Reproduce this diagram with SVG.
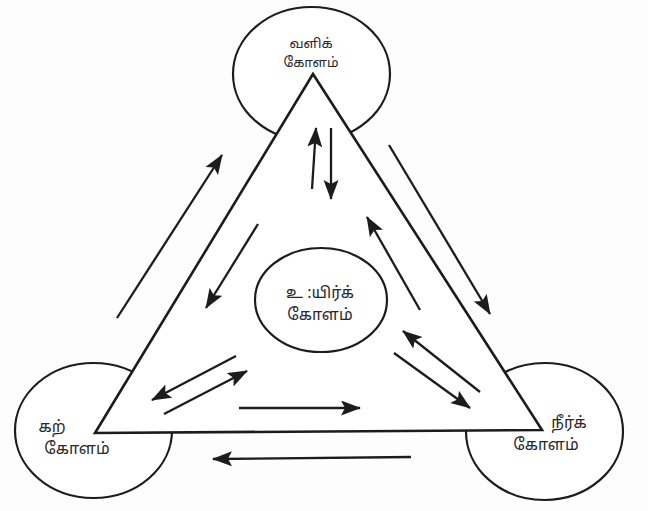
<svg xmlns="http://www.w3.org/2000/svg" width="648" height="511" viewBox="0 0 648 511">
<style>
.sh{fill:#fff;stroke:#1c1c1c;stroke-width:2.2}
.tri{fill:#fff;stroke:#1c1c1c;stroke-width:2.6;stroke-linejoin:miter}
.ar{fill:none;stroke:#1c1c1c;stroke-width:2.3;marker-end:url(#ah)}
.t{font-family:"Noto Sans Tamil","Latha","Lohit Tamil","Noto Sans",sans-serif;fill:#2a2a2a;text-anchor:middle}
</style>
<defs>
<marker id="ah" markerUnits="userSpaceOnUse" markerWidth="22" markerHeight="16" refX="19" refY="7.5" orient="auto">
<path d="M0,0 L20,7.5 L0,15 L4,7.5 z" fill="#1c1c1c"/>
</marker>
</defs>
<rect width="648" height="511" fill="#fdfdfd"/>
<g id="node-vali">
<ellipse class="sh" cx="311.5" cy="74" rx="78.5" ry="67"/>
</g>
<g id="node-kal">
<ellipse class="sh" cx="93.5" cy="430.5" rx="78.5" ry="67.5"/>
</g>
<g id="node-neer">
<ellipse class="sh" cx="544.5" cy="431.5" rx="78.5" ry="68.5"/>
</g>
<g id="triangle">
<polygon class="tri" points="313,74 95,433 542,430"/>
</g>
<g id="node-uyir">
<ellipse class="sh" cx="321" cy="300" rx="66" ry="52"/>
<text class="t" x="320" y="298" font-size="16">உ :யிர்க்</text>
<text class="t" x="320" y="320" font-size="16">கோளம்</text>
</g>
<g id="labels">
<text class="t" x="311" y="48" font-size="13.5">வளிக்</text>
<text class="t" x="311" y="67" font-size="13.5">கோளம்</text>
<text class="t" x="52" y="432" font-size="16">கற்</text>
<text class="t" x="77" y="454" font-size="16">கோளம்</text>
<text class="t" x="569" y="428" font-size="16">நீர்க்</text>
<text class="t" x="546" y="450" font-size="16">கோளம்</text>
</g>
<g id="connectors">
<line class="ar" x1="117" y1="318" x2="222" y2="155"/>
<line class="ar" x1="258" y1="224" x2="206" y2="308"/>
<line class="ar" x1="312" y1="189" x2="316" y2="128"/>
<line class="ar" x1="331" y1="128" x2="331" y2="199"/>
<line class="ar" x1="389" y1="145" x2="490" y2="314"/>
<line class="ar" x1="420" y1="310" x2="367" y2="217"/>
<line class="ar" x1="480" y1="392" x2="403" y2="331"/>
<line class="ar" x1="394" y1="353" x2="470" y2="408"/>
<line class="ar" x1="236" y1="356" x2="152" y2="400"/>
<line class="ar" x1="164" y1="414" x2="247" y2="371"/>
<line class="ar" x1="239" y1="408" x2="360" y2="408"/>
<line class="ar" x1="411" y1="457" x2="213" y2="459"/>
</g>
</svg>
